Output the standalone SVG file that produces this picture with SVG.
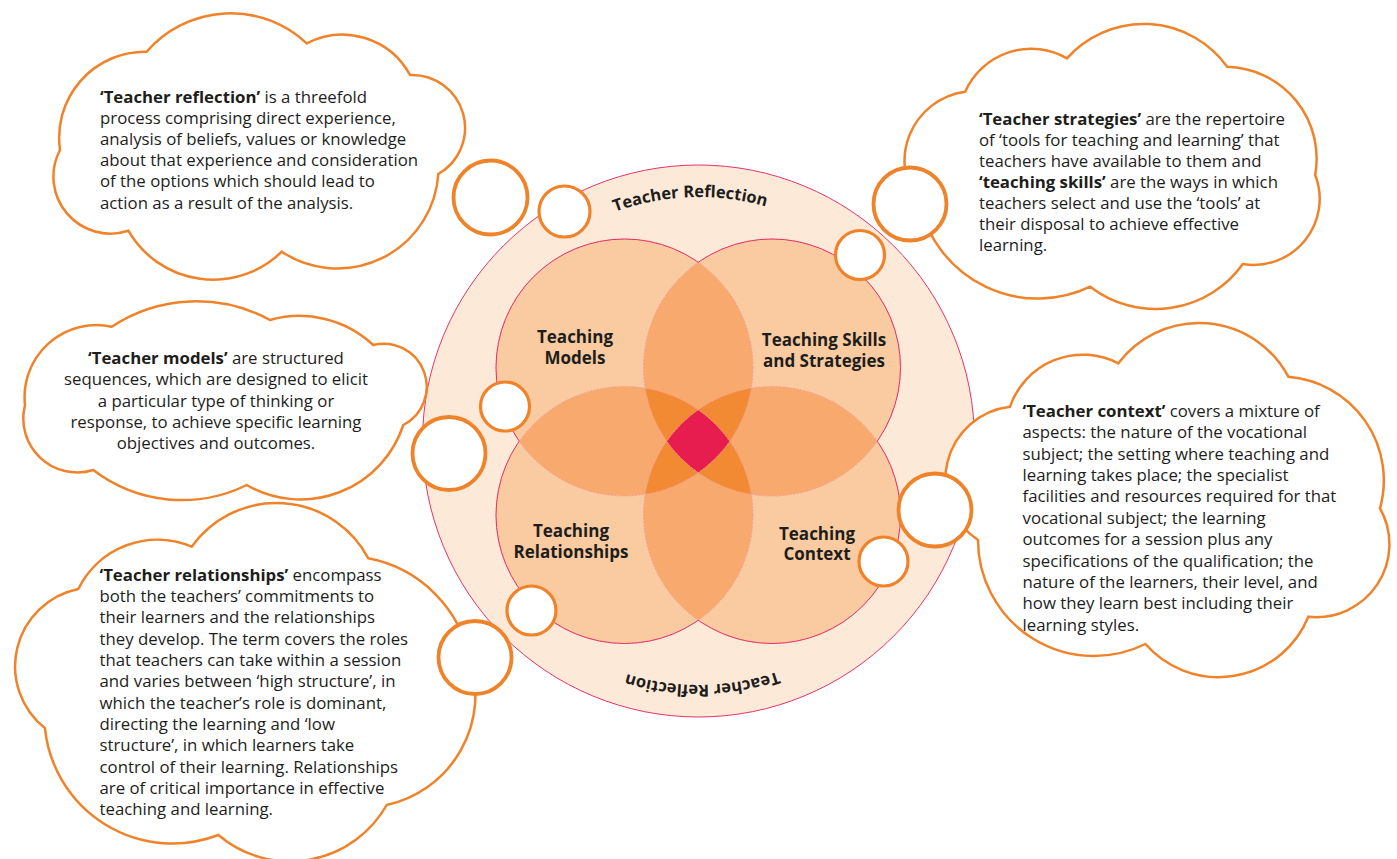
<svg xmlns="http://www.w3.org/2000/svg" width="1397" height="859" viewBox="0 0 1397 859">
<style>
.cloud{fill:#fff;stroke:#F0822A;stroke-width:2.5;stroke-linejoin:miter}
.bub{fill:#fff;stroke:#F0822A;stroke-width:3.2}
.bubL{fill:#fff;stroke:#F0822A;stroke-width:3.8}
.txt{font-family:"Open Sans","Liberation Sans",sans-serif;font-size:16.8px;fill:#1d1d1b}
.b{font-weight:700}
.lbl{font-family:"Open Sans","Liberation Sans",sans-serif;font-size:17px;font-weight:700;fill:#1d1d1b;text-anchor:middle}
.ring{font-family:"Open Sans","Liberation Sans",sans-serif;font-size:16.5px;font-weight:700;fill:#1d1d1b;text-anchor:middle}
.f1{fill:#FACBA1}
.f2{fill:#F7A96E}
.f3{fill:#F28A33}
.f4{fill:#E81D4F}
.dash{fill:none;stroke:#F39A9A;stroke-width:0.9;stroke-dasharray:2 1.5}
.solid{fill:none;stroke:#E6336B;stroke-width:1}
</style>
<defs>
<clipPath id="cTL"><circle cx="624.5" cy="367.5" r="128.5"/></clipPath>
<clipPath id="cTR"><circle cx="772" cy="367.5" r="128.5"/></clipPath>
<clipPath id="cBL"><circle cx="624.5" cy="515" r="128.5"/></clipPath>
<clipPath id="cBR"><circle cx="772" cy="515" r="128.5"/></clipPath>
<mask id="mTL"><rect width="1397" height="859" fill="#fff"/><circle cx="772" cy="367.5" r="128.5"/><circle cx="624.5" cy="515" r="128.5"/><circle cx="772" cy="515" r="128.5"/></mask>
<mask id="mTR"><rect width="1397" height="859" fill="#fff"/><circle cx="624.5" cy="367.5" r="128.5"/><circle cx="624.5" cy="515" r="128.5"/><circle cx="772" cy="515" r="128.5"/></mask>
<mask id="mBL"><rect width="1397" height="859" fill="#fff"/><circle cx="624.5" cy="367.5" r="128.5"/><circle cx="772" cy="367.5" r="128.5"/><circle cx="772" cy="515" r="128.5"/></mask>
<mask id="mBR"><rect width="1397" height="859" fill="#fff"/><circle cx="624.5" cy="367.5" r="128.5"/><circle cx="772" cy="367.5" r="128.5"/><circle cx="624.5" cy="515" r="128.5"/></mask>
<path id="arcTop" d="M 454.5 441 A 244 244 0 0 1 942.5 441"/>
</defs>

<g id="outer-ring">
<circle cx="698.5" cy="441" r="276" fill="#FDE9D8" stroke="#E6336B" stroke-width="1"/>
<text class="ring"><textPath href="#arcTop" startOffset="48.9%">Teacher Reflection</textPath></text>
<g transform="rotate(180 698.5 441)"><text class="ring"><textPath href="#arcTop" startOffset="49.5%">Teacher Reflection</textPath></text></g>
</g>

<g id="venn">
<circle class="f1" cx="624.5" cy="367.5" r="128.5"/>
<circle class="f1" cx="772" cy="367.5" r="128.5"/>
<circle class="f1" cx="624.5" cy="515" r="128.5"/>
<circle class="f1" cx="772" cy="515" r="128.5"/>
<circle class="f2" cx="624.5" cy="367.5" r="128.5" clip-path="url(#cTR)"/>
<circle class="f2" cx="624.5" cy="367.5" r="128.5" clip-path="url(#cBL)"/>
<circle class="f2" cx="624.5" cy="367.5" r="128.5" clip-path="url(#cBR)"/>
<circle class="f2" cx="772" cy="367.5" r="128.5" clip-path="url(#cBL)"/>
<circle class="f2" cx="772" cy="367.5" r="128.5" clip-path="url(#cBR)"/>
<circle class="f2" cx="624.5" cy="515" r="128.5" clip-path="url(#cBR)"/>
<g clip-path="url(#cBL)"><circle class="f3" cx="624.5" cy="367.5" r="128.5" clip-path="url(#cTR)"/></g>
<g clip-path="url(#cBR)"><circle class="f3" cx="624.5" cy="367.5" r="128.5" clip-path="url(#cTR)"/></g>
<g clip-path="url(#cBR)"><circle class="f3" cx="624.5" cy="367.5" r="128.5" clip-path="url(#cBL)"/></g>
<g clip-path="url(#cBR)"><circle class="f3" cx="772" cy="367.5" r="128.5" clip-path="url(#cBL)"/></g>
<g clip-path="url(#cBR)"><g clip-path="url(#cBL)"><circle class="f4" cx="624.5" cy="367.5" r="128.5" clip-path="url(#cTR)"/></g></g>
<circle class="dash" cx="624.5" cy="367.5" r="128.5"/>
<circle class="dash" cx="772" cy="367.5" r="128.5"/>
<circle class="dash" cx="624.5" cy="515" r="128.5"/>
<circle class="dash" cx="772" cy="515" r="128.5"/>
<circle class="solid" cx="624.5" cy="367.5" r="128.5" mask="url(#mTL)"/>
<circle class="solid" cx="772" cy="367.5" r="128.5" mask="url(#mTR)"/>
<circle class="solid" cx="624.5" cy="515" r="128.5" mask="url(#mBL)"/>
<circle class="solid" cx="772" cy="515" r="128.5" mask="url(#mBR)"/>
</g>

<g id="teaching-models"><text class="lbl" x="575" y="343">Teaching</text><text class="lbl" x="575" y="364">Models</text></g>
<g id="teaching-skills"><text class="lbl" x="824" y="345.5">Teaching Skills</text><text class="lbl" x="824" y="366.5">and Strategies</text></g>
<g id="teaching-relationships"><text class="lbl" x="571" y="537">Teaching</text><text class="lbl" x="571" y="557.5">Relationships</text></g>
<g id="teaching-context"><text class="lbl" x="817" y="539.5">Teaching</text><text class="lbl" x="817" y="560">Context</text></g>

<g id="cloud-reflection">
<path class="cloud" d="M 146.7 51.7 A 111 111 0 0 1 306.7 43.3 A 77 77 0 0 1 410 75 A 53 53 0 0 1 438.3 174 A 101 101 0 0 1 281.7 251.7 A 98 98 0 0 1 128.3 230.7 A 57 57 0 0 1 60 150 A 86 86 0 0 1 146.7 51.7 Z"/>
<text class="txt" x="100" y="103"><tspan class="b">‘Teacher reflection’</tspan> is a threefold</text>
<text class="txt" x="100" y="124.1">process comprising direct experience,</text>
<text class="txt" x="100" y="145.2">analysis of beliefs, values or knowledge</text>
<text class="txt" x="100" y="166.3">about that experience and consideration</text>
<text class="txt" x="100" y="187.4">of the options which should lead to</text>
<text class="txt" x="100" y="208.5">action as a result of the analysis.</text>
</g>

<g id="cloud-strategies">
<path class="cloud" d="M 965.2 91.7 A 72 72 0 0 1 1066.9 58.3 A 103 103 0 0 1 1227.2 66.7 A 92 92 0 0 1 1315.2 175 A 66 66 0 0 1 1242.8 264 A 107 107 0 0 1 1090.2 286.7 A 121 121 0 0 1 920 205 A 70 70 0 0 1 965.2 91.7 Z"/>
<text class="txt" x="979" y="125"><tspan class="b">‘Teacher strategies’</tspan> are the repertoire</text>
<text class="txt" x="979" y="146">of ‘tools for teaching and learning’ that</text>
<text class="txt" x="979" y="167">teachers have available to them and</text>
<text class="txt" x="979" y="188"><tspan class="b">‘teaching skills’</tspan> are the ways in which</text>
<text class="txt" x="979" y="209">teachers select and use the ‘tools’ at</text>
<text class="txt" x="979" y="230">their disposal to achieve effective</text>
<text class="txt" x="979" y="251">learning.</text>
</g>

<g id="cloud-models">
<path class="cloud" d="M 111.7 326.7 A 154 154 0 0 1 270 320 A 108 108 0 0 1 373.3 345 A 43 43 0 0 1 403.3 425 A 108 108 0 0 1 246.7 485 A 146 146 0 0 1 93.3 470 A 54 54 0 0 1 25 405 A 72 72 0 0 1 111.7 326.7 Z"/>
<text class="txt" x="216" y="364" text-anchor="middle"><tspan class="b">‘Teacher models’</tspan> are structured</text>
<text class="txt" x="216" y="385.3" text-anchor="middle">sequences, which are designed to elicit</text>
<text class="txt" x="216" y="406.6" text-anchor="middle">a particular type of thinking or</text>
<text class="txt" x="216" y="427.9" text-anchor="middle">response, to achieve specific learning</text>
<text class="txt" x="216" y="449.2" text-anchor="middle">objectives and outcomes.</text>
</g>

<g id="cloud-relationships">
<path class="cloud" d="M 78.3 589 A 88 88 0 0 1 191.7 546.7 A 104 104 0 0 1 368.3 558.3 A 128 128 0 0 1 470 660 A 113 113 0 0 1 386.7 805 A 111 111 0 0 1 218.3 835 A 128 128 0 0 1 45 728.3 A 79 79 0 0 1 78.3 589 Z"/>
<text class="txt" x="99.5" y="580.5"><tspan class="b">‘Teacher relationships’</tspan> encompass</text>
<text class="txt" x="99.5" y="601.9">both the teachers’ commitments to</text>
<text class="txt" x="99.5" y="623.2">their learners and the relationships</text>
<text class="txt" x="99.5" y="644.6">they develop. The term covers the roles</text>
<text class="txt" x="99.5" y="665.9">that teachers can take within a session</text>
<text class="txt" x="99.5" y="687.3">and varies between ‘high structure’, in</text>
<text class="txt" x="99.5" y="708.6">which the teacher’s role is dominant,</text>
<text class="txt" x="99.5" y="730">directing the learning and ‘low</text>
<text class="txt" x="99.5" y="751.3">structure’, in which learners take</text>
<text class="txt" x="99.5" y="772.7">control of their learning. Relationships</text>
<text class="txt" x="99.5" y="794">are of critical importance in effective</text>
<text class="txt" x="99.5" y="815.4">teaching and learning.</text>
</g>

<g id="cloud-context">
<path class="cloud" d="M 1010 406.7 A 77 77 0 0 1 1118.3 363.3 A 101 101 0 0 1 1288.3 376.7 A 104 104 0 0 1 1380 508.3 A 73 73 0 0 1 1308.3 616.7 A 97 97 0 0 1 1145.4 644 A 116 116 0 0 1 978 540 A 73 73 0 0 1 1010 406.7 Z"/>
<text class="txt" x="1022.5" y="417"><tspan class="b">‘Teacher context’</tspan> covers a mixture of</text>
<text class="txt" x="1022.5" y="438.4">aspects: the nature of the vocational</text>
<text class="txt" x="1022.5" y="459.7">subject; the setting where teaching and</text>
<text class="txt" x="1022.5" y="481.1">learning takes place; the specialist</text>
<text class="txt" x="1022.5" y="502.4">facilities and resources required for that</text>
<text class="txt" x="1022.5" y="523.8">vocational subject; the learning</text>
<text class="txt" x="1022.5" y="545.1">outcomes for a session plus any</text>
<text class="txt" x="1022.5" y="566.5">specifications of the qualification; the</text>
<text class="txt" x="1022.5" y="587.8">nature of the learners, their level, and</text>
<text class="txt" x="1022.5" y="609.2">how they learn best including their</text>
<text class="txt" x="1022.5" y="630.5">learning styles.</text>
</g>

<g id="connectors">
<circle class="bubL" cx="490.5" cy="197.5" r="37"/>
<circle class="bub" cx="564.5" cy="211.5" r="25.5"/>
<circle class="bubL" cx="910" cy="204" r="36.5"/>
<circle class="bub" cx="860" cy="255" r="24.5"/>
<circle class="bub" cx="505" cy="406.5" r="24.5"/>
<circle class="bubL" cx="449" cy="453.5" r="36.5"/>
<circle class="bub" cx="531.5" cy="610.5" r="24.5"/>
<circle class="bubL" cx="475" cy="657.5" r="36.5"/>
<circle class="bubL" cx="935" cy="510" r="36.5"/>
<circle class="bub" cx="883.5" cy="561.5" r="24.5"/>
</g>
</svg>
